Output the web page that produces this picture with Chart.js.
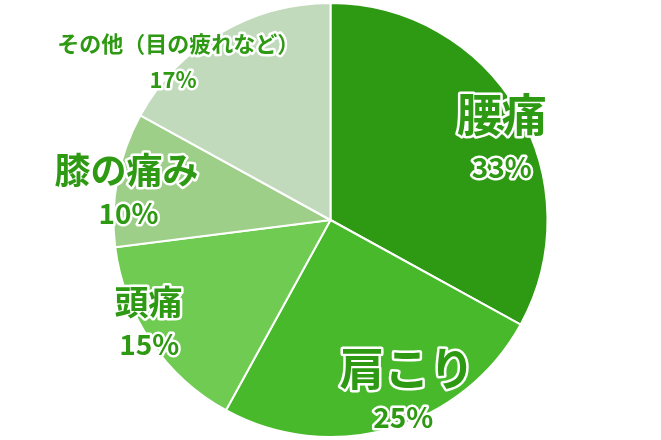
<!DOCTYPE html>
<html><head><meta charset="utf-8">
<script src="https://cdn.jsdelivr.net/npm/chart.js@4.4.1/dist/chart.umd.min.js"></script>
<style>html,body{margin:0;padding:0;background:#fff;}#wrap{width:661px;height:440px;}</style>
</head><body><div id="wrap"><canvas id="c" width="661" height="440"></canvas></div>
<script>
const categories = ['腰痛', '肩こり', '頭痛', '膝の痛み', 'その他（目の疲れなど）'];
const values = [33, 25, 15, 10, 17];
const pctLabels = ['33%', '25%', '15%', '10%', '17%'];
const colors = ['#2e9912', '#47b92a', '#6fcb52', '#9dcf89', '#c2dabc'];

// label placement relative to pie centre, in units of radius
const namePos = [[0.789,-0.486],[0.353,0.688],[-0.839,0.376],[-0.940,-0.229],[-0.702,-0.812]];
const pctPos  = [[0.789,-0.243],[0.335,0.908],[-0.835,0.573],[-0.931,-0.032],[-0.725,-0.647]];
const nameSize = [45, 45, 34, 36, 22];
const pctSize = [28, 28, 28, 28, 22];
const FONT = '"Noto Sans CJK JP", "Noto Sans", sans-serif';

const labelPlugin = {
  id: 'labels',
  afterDatasetsDraw(chart) {
    const ctx = chart.ctx;
    const meta = chart.getDatasetMeta(0);
    meta.data.forEach((arc, i) => {
      const cx = arc.x, cy = arc.y, R = arc.outerRadius;
      const draw = (txt, pos, size) => {
        ctx.save();
        ctx.font = 'bold ' + size + 'px ' + FONT;
        ctx.textAlign = 'center';
        ctx.textBaseline = 'middle';
        ctx.lineJoin = 'round';
        ctx.lineWidth = 5;
        ctx.strokeStyle = '#ffffff';
        const x = cx + pos[0] * R, y = cy + pos[1] * R;
        ctx.strokeText(txt, x, y);
        ctx.fillStyle = '#2e9912';
        ctx.fillText(txt, x, y);
        ctx.restore();
      };
      draw(categories[i], namePos[i], nameSize[i]);
      draw(pctLabels[i], pctPos[i], pctSize[i]);
    });
  }
};

new Chart(document.getElementById('c'), {
  type: 'pie',
  data: {
    labels: categories,
    datasets: [{ data: values, backgroundColor: colors, borderColor: '#ffffff', borderWidth: 2 }]
  },
  options: {
    responsive: false,
    animation: false,
    layout: { padding: { top: 2, bottom: 2 } },
    plugins: { legend: { display: false }, tooltip: { enabled: false } }
  },
  plugins: [labelPlugin]
});
</script></body></html>
